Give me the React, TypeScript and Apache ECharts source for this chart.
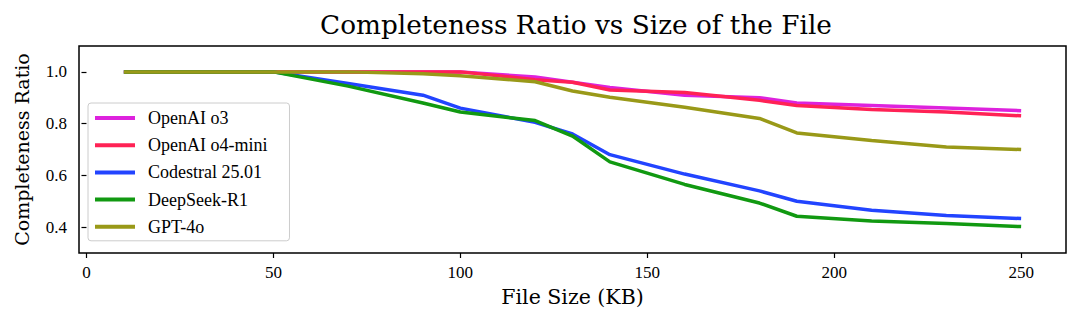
import React, { useEffect, useRef } from "react";
import * as echarts from "echarts";

const fileSizes = [10, 30, 50, 70, 90, 100, 120, 130, 140, 160, 180, 190, 210, 230, 250];
const o3 = [1.0, 1.0, 1.0, 1.0, 1.0, 1.0, 0.98, 0.96, 0.94, 0.91, 0.9, 0.88, 0.87, 0.86, 0.85];
const o4mini = [1.0, 1.0, 1.0, 1.0, 1.0, 1.0, 0.97, 0.96, 0.93, 0.92, 0.89, 0.87, 0.855, 0.845, 0.83];
const codestral = [1.0, 1.0, 1.0, 0.955, 0.91, 0.86, 0.805, 0.76, 0.68, 0.605, 0.54, 0.5, 0.465, 0.445, 0.433];
const deepseek = [1.0, 1.0, 1.0, 0.945, 0.88, 0.845, 0.812, 0.752, 0.652, 0.565, 0.493, 0.442, 0.424, 0.414, 0.402];
const gpt4o = [1.0, 1.0, 1.0, 1.0, 0.993, 0.985, 0.962, 0.926, 0.902, 0.863, 0.82, 0.764, 0.735, 0.71, 0.7];

const seriesNames = ["OpenAI o3", "OpenAI o4-mini", "Codestral 25.01", "DeepSeek-R1", "GPT-4o"];
const seriesData = [o3, o4mini, codestral, deepseek, gpt4o];
const seriesColors = ["#dd22dd", "#ff2255", "#2244ff", "#119911", "#999918"];
const xTicks = [0, 50, 100, 150, 200, 250];
const yTicks = [0.4, 0.6, 0.8, 1.0];

const FONT = "Liberation Serif";
const WIDE = "DejaVu Serif";

export default function App() {
  const ref = useRef<HTMLDivElement>(null);
  useEffect(() => {
    if (!ref.current) return;
    const chart = echarts.init(ref.current, null, { renderer: "svg" });
    chart.setOption({
      animation: false,
      backgroundColor: "#ffffff",
      textStyle: { fontFamily: FONT, color: "#000" },
      title: {
        text: "Completeness Ratio vs Size of the File",
        left: 571,
        textAlign: "center",
        top: 7,
        textStyle: { fontFamily: WIDE, fontSize: 26.3, fontWeight: "normal", color: "#000" },
      },
      grid: {
        left: 79,
        right: 13,
        top: 46,
        bottom: 73,
        show: true,
        borderColor: "#000",
        borderWidth: 1.5,
        backgroundColor: "transparent",
      },
      legend: {
        orient: "vertical",
        left: 88,
        top: 103,
        data: seriesNames,
        icon: "rect",
        itemWidth: 40,
        itemHeight: 4,
        itemGap: 9.2,
        padding: [6, 22, 5, 7],
        backgroundColor: "rgba(255,255,255,0.85)",
        borderColor: "#cccccc",
        borderWidth: 1,
        borderRadius: 3,
        textStyle: { fontFamily: FONT, fontSize: 18, color: "#000", padding: [0, 0, 0, 8] },
      },
      xAxis: {
        type: "value",
        min: -2,
        max: 262,
        name: "File Size (KB)",
        nameLocation: "middle",
        nameGap: 33,
        nameTextStyle: { fontFamily: WIDE, fontSize: 20.5, color: "#000" },
        axisLine: { show: false },
        splitLine: { show: false },
        axisTick: { show: true, customValues: xTicks, length: 5, lineStyle: { color: "#000", width: 1.2 } },
        axisLabel: { customValues: xTicks, fontFamily: FONT, fontSize: 17, color: "#000", margin: 11 },
      },
      yAxis: {
        type: "value",
        min: 0.3,
        max: 1.1,
        name: "Completeness Ratio",
        nameLocation: "middle",
        nameGap: 48,
        nameTextStyle: { fontFamily: WIDE, fontSize: 19, color: "#000" },
        axisLine: { show: false },
        splitLine: { show: false },
        axisTick: { show: true, customValues: yTicks, length: 5, lineStyle: { color: "#000", width: 1.2 } },
        axisLabel: {
          customValues: yTicks,
          fontFamily: FONT,
          fontSize: 17,
          color: "#000",
          margin: 12,
          formatter: (v: number) => v.toFixed(1),
        },
      },
      series: seriesNames.map((name, i) => ({
        name,
        type: "line",
        data: fileSizes.map((x, j) => [x, seriesData[i][j]]),
        showSymbol: false,
        symbol: "none",
        color: seriesColors[i],
        lineStyle: { width: 3.5, color: seriesColors[i] },
        itemStyle: { color: seriesColors[i] },
      })),
    });
    return () => chart.dispose();
  }, []);
  return <div ref={ref} style={{ position: "fixed", left: 0, top: 0, width: 1079, height: 326 }} />;
}
